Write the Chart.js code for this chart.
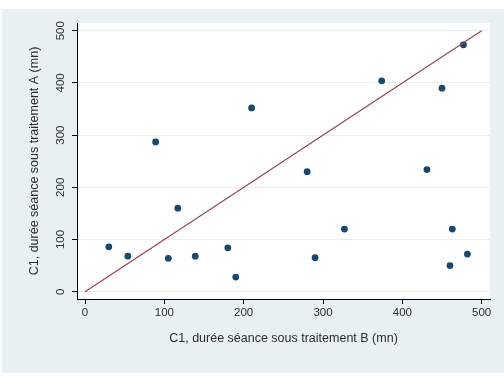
<!DOCTYPE html>
<html>
<head>
<meta charset="utf-8">
<script src="https://cdn.jsdelivr.net/npm/chart.js@4.4.1/dist/chart.umd.min.js"></script>
<style>
    body { margin: 0; background: #ffffff; }
    #wrap { width: 504px; height: 380px; }
</style>
</head>
<body>
<div id="wrap"><canvas id="scatter-chart" width="504" height="380"></canvas></div>
<script>
// Durations per session (minutes): treatment B on x, treatment A on y
const durationB = [30, 54, 89, 105, 117, 139, 180, 190, 210, 280, 290, 327, 374, 431, 450, 460, 463, 477, 482];
const durationA = [86, 68, 287, 64, 160, 68, 84, 28, 352, 230, 65, 120, 404, 234, 390, 50, 120, 473, 72];
const tickValues = [0, 100, 200, 300, 400, 500];
const diagonalX = [0, 500];
const diagonalY = [0, 500];

const xTitle = 'C1, durée séance sous traitement B (mn)';
const yTitle = 'C1, durée séance sous traitement A (mn)';

const textColor = '#2b2b2b';
const gridColor = '#e6eef1';
const fontFamily = '"Liberation Sans", Arial, sans-serif';

// Outer light box + white plot region, then y tick labels drawn rotated
const backgroundPlugin = {
    id: 'stataBackground',
    beforeDraw(chart) {
        const ctx = chart.ctx;
        const area = chart.chartArea;
        ctx.save();
        ctx.fillStyle = '#ffffff';
        ctx.fillRect(0, 0, chart.width, chart.height);
        ctx.fillStyle = '#e9f0f3';
        ctx.fillRect(2, 9, chart.width - 2, 364);
        ctx.fillStyle = '#ffffff';
        ctx.fillRect(area.left, area.top, area.right - area.left, area.bottom - area.top);
        ctx.restore();
    },
    afterDraw(chart) {
        const ctx = chart.ctx;
        const yScale = chart.scales.y;
        ctx.save();
        ctx.font = '11.5px ' + fontFamily;
        ctx.fillStyle = textColor;
        ctx.textAlign = 'center';
        ctx.textBaseline = 'middle';
        yScale.ticks.forEach(tick => {
            const y = yScale.getPixelForValue(tick.value);
            ctx.save();
            ctx.translate(61, y);
            ctx.rotate(-Math.PI / 2);
            ctx.fillText(String(tick.value), 0, 0);
            ctx.restore();
        });
        ctx.restore();
    }
};

const scatterPoints = durationB.map((x, i) => ({ x: x, y: durationA[i] }));
const diagonalPoints = diagonalX.map((x, i) => ({ x: x, y: diagonalY[i] }));

const ctx = document.getElementById('scatter-chart').getContext('2d');

new Chart(ctx, {
    type: 'scatter',
    data: {
        datasets: [
            {
                type: 'line',
                data: diagonalPoints,
                borderColor: '#93404a',
                borderWidth: 1.1,
                pointRadius: 0,
                fill: false
            },
            {
                data: scatterPoints,
                backgroundColor: '#1a476f',
                borderColor: '#1a476f',
                borderWidth: 0,
                pointRadius: 3.4
            }
        ]
    },
    options: {
        responsive: false,
        animation: false,
        events: [],
        layout: {
            padding: { top: 23, right: 14, left: 0, bottom: 0 }
        },
        plugins: {
            legend: { display: false },
            tooltip: { enabled: false }
        },
        scales: {
            x: {
                type: 'linear',
                min: -10.1,
                max: 510.5,
                afterFit: (scale) => { scale.height = 81; },
                afterBuildTicks: (scale) => {
                    scale.ticks = tickValues.map(v => ({ value: v }));
                },
                grid: {
                    drawOnChartArea: false,
                    drawTicks: true,
                    tickLength: 5,
                    tickColor: '#000000'
                },
                border: { display: true, color: '#000000', width: 1 },
                ticks: {
                    color: textColor,
                    padding: 2,
                    maxRotation: 0,
                    font: { family: fontFamily, size: 11.5 }
                },
                title: {
                    display: true,
                    text: xTitle,
                    color: textColor,
                    padding: { top: 0, bottom: 33.7 },
                    font: { family: fontFamily, size: 12.5 }
                }
            },
            y: {
                type: 'linear',
                min: -14,
                max: 514.8,
                afterFit: (scale) => { scale.width = 77; },
                afterBuildTicks: (scale) => {
                    scale.ticks = tickValues.map(v => ({ value: v }));
                },
                grid: {
                    color: gridColor,
                    lineWidth: 1,
                    drawTicks: true,
                    tickLength: 5,
                    tickColor: '#000000'
                },
                border: { display: true, color: '#000000', width: 1 },
                ticks: { display: false },
                title: {
                    display: true,
                    text: yTitle,
                    color: textColor,
                    padding: { top: 27.5, bottom: 0 },
                    font: { family: fontFamily, size: 12.5 }
                }
            }
        }
    },
    plugins: [backgroundPlugin]
});
</script>
</body>
</html>
